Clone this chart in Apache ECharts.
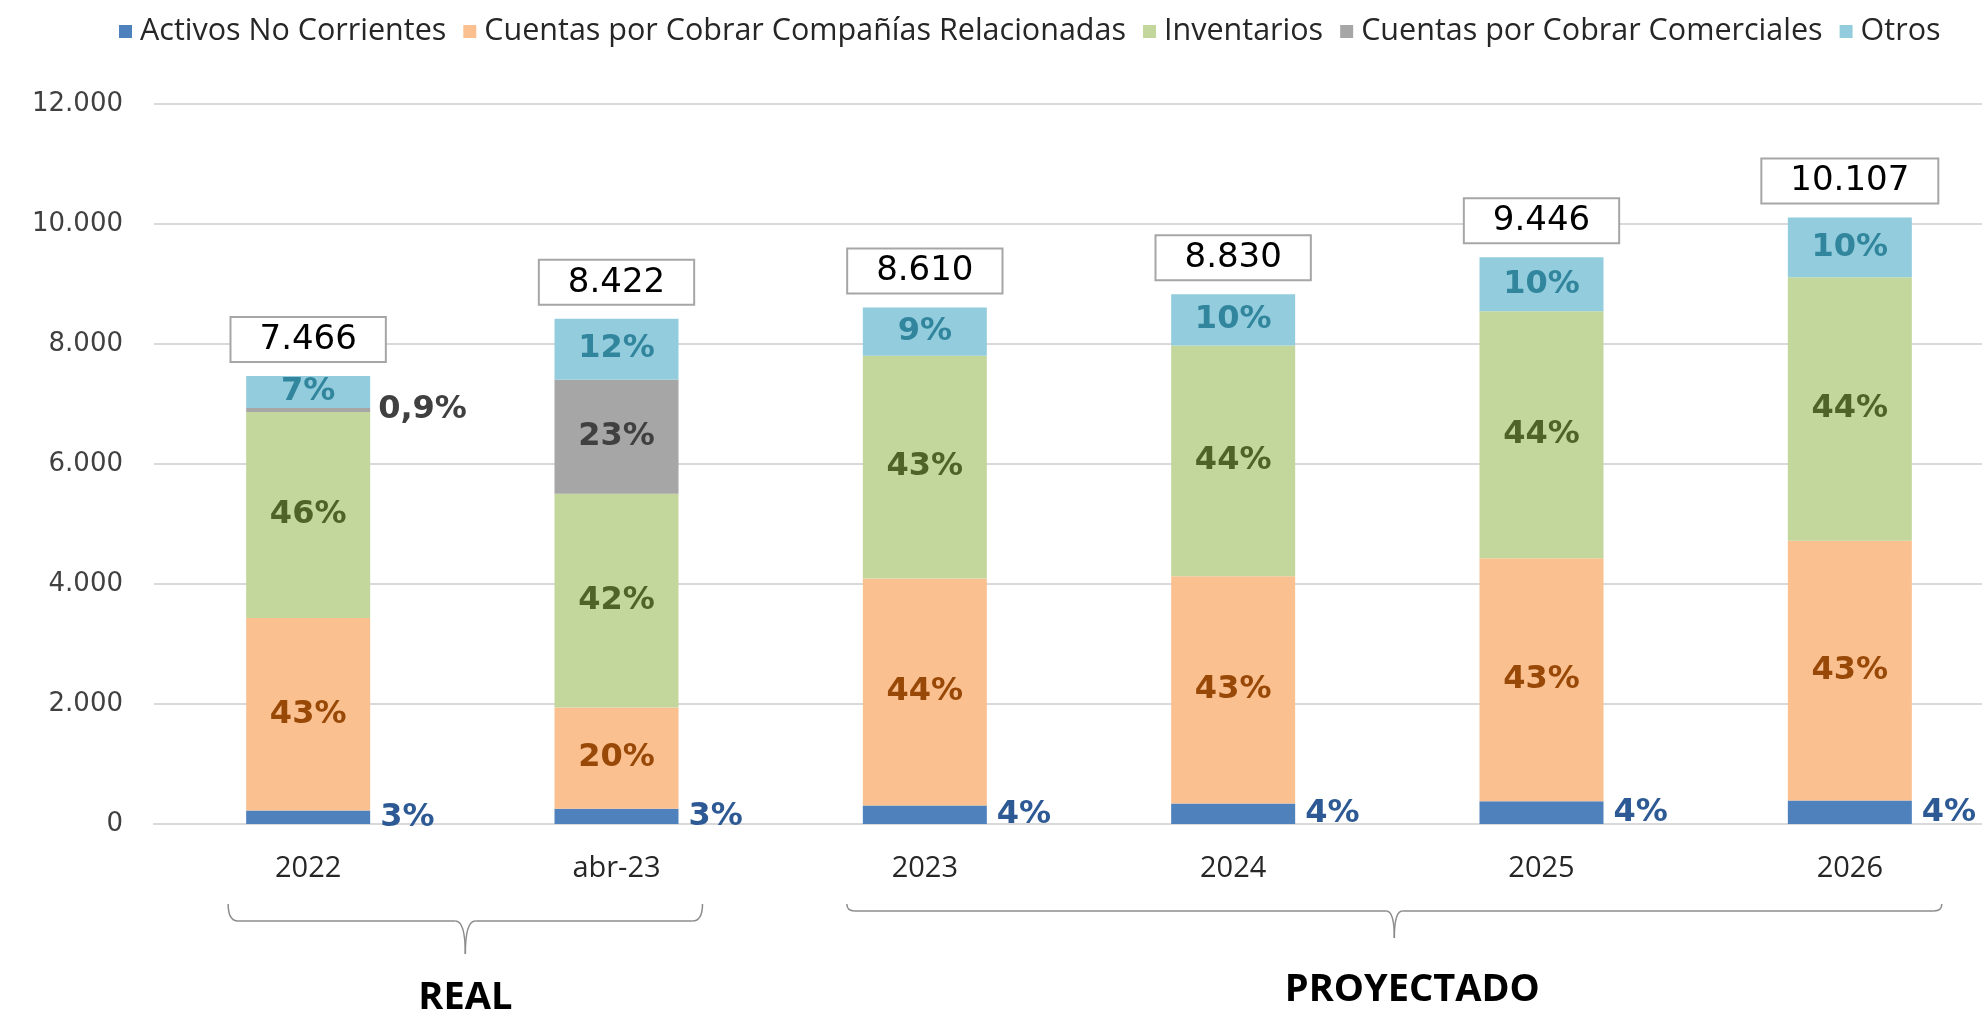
<!DOCTYPE html>
<html>
<head>
<meta charset="utf-8">
<title>Estructura de Activos</title>
<script src="https://cdn.jsdelivr.net/npm/echarts@6/dist/echarts.min.js"></script>
<style>
  html, body { margin: 0; padding: 0; background: #fff; }
  #main { width: 1982px; height: 1018px; }
</style>
</head>
<body>
<div id="main"></div>
<script>
// datos (miles)
const categories = ['2022', 'abr-23', '2023', '2024', '2025', '2026'];
const totales = [7466, 8422, 8610, 8830, 9446, 10107];
const activosNoCorrientes = [224, 253, 310, 340, 380, 390];
const ctasRelacionadas = [3210, 1688, 3783, 3790, 4050, 4330];
const inventarios = [3434, 3565, 3713, 3845, 4114, 4394];
const ctasComerciales = [67, 1900, 0, 0, 0, 0];
const otros = [531, 1016, 804, 855, 902, 993];

// porcentajes mostrados en cada tramo
const pctActivos = ['3%', '3%', '4%', '4%', '4%', '4%'];
const pctRelacionadas = ['43%', '20%', '44%', '43%', '43%', '43%'];
const pctInventarios = ['46%', '42%', '43%', '44%', '44%', '44%'];
const pctComerciales = ['0,9%', '23%', '', '', '', ''];
const pctOtros = ['7%', '12%', '9%', '10%', '10%', '10%'];

const yMin = 0, yMax = 12000, yStep = 2000;

const VERDANA = "'DejaVu Sans', Verdana, sans-serif";
const CALIBRI = "'Open Sans', 'Noto Sans', sans-serif";
const BAR_W = 124;

function miles(v) {
  return String(v).replace(/\B(?=(\d{3})+(?!\d))/g, '.');
}

function tramo(name, values, pcts, color, labelColor, pos) {
  return {
    name: name,
    type: 'bar',
    stack: 'total',
    barWidth: BAR_W,
    itemStyle: { color: color },
    label: {
      show: true,
      position: pos || 'inside',
      distance: 10,
      color: labelColor,
      fontFamily: VERDANA,
      fontWeight: 'bold',
      fontSize: 32,
      formatter: p => pcts[p.dataIndex]
    },
    data: values.map(v => v)
  };
}

let myChart = echarts.init(document.getElementById('main'));

const comerciales = tramo('Cuentas por Cobrar Comerciales', ctasComerciales, pctComerciales, '#A6A6A6', '#404040');
// el 0,9% de 2022 va fuera de la barra
comerciales.data[0] = { value: ctasComerciales[0], label: { position: 'right', distance: 8 } };

myChart.setOption({
  animation: false,
  legend: {
    left: 114,
    top: 11,
    icon: 'rect',
    itemWidth: 13,
    itemHeight: 13,
    itemGap: 17,
    textStyle: { fontFamily: CALIBRI, fontSize: 30.5, color: '#262626', padding: [0, 0, 0, 3] },
    data: ['Activos No Corrientes', 'Cuentas por Cobrar Compañías Relacionadas', 'Inventarios',
      'Cuentas por Cobrar Comerciales', 'Otros']
  },
  // el area del grafico sigue un poco mas alla del borde derecho
  grid: { left: 154, width: 1850, top: 104, bottom: 194, outerBoundsMode: 'none', containLabel: false },
  xAxis: {
    type: 'category',
    data: categories,
    axisTick: { show: false },
    axisLine: { lineStyle: { color: '#D9D9D9', width: 2 } },
    axisLabel: { margin: 30, fontFamily: CALIBRI, fontSize: 29, color: '#262626' }
  },
  yAxis: {
    type: 'value',
    min: yMin,
    max: yMax,
    interval: yStep,
    splitLine: { lineStyle: { color: '#D9D9D9', width: 2 } },
    axisLabel: { margin: 31, fontFamily: VERDANA, fontSize: 26, color: '#404040', formatter: v => miles(v) }
  },
  series: [
    tramo('Activos No Corrientes', activosNoCorrientes, pctActivos, '#4F81BD', '#2D5A94', 'right'),
    tramo('Cuentas por Cobrar Compañías Relacionadas', ctasRelacionadas, pctRelacionadas, '#FAC090', '#984807'),
    tramo('Inventarios', inventarios, pctInventarios, '#C3D69B', '#4F6228'),
    comerciales,
    tramo('Otros', otros, pctOtros, '#93CDDD', '#31859C'),
    {
      // caja con el total encima de cada barra
      name: 'Total',
      type: 'bar',
      barWidth: BAR_W,
      barGap: '-100%',
      itemStyle: { color: 'rgba(0,0,0,0)' },
      label: {
        show: true,
        position: 'top',
        distance: 15,
        fontFamily: VERDANA,
        fontSize: 34,
        color: '#000',
        backgroundColor: '#fff',
        borderColor: '#A6A6A6',
        borderWidth: 2,
        padding: [5, 28, 4, 28],
        formatter: p => miles(p.value)
      },
      data: totales
    }
  ]
});

// llaves REAL / PROYECTADO bajo el eje, hechas con curvas y lineas
function llave(x1, x2, top, line, tip, r) {
  const xm = (x1 + x2) / 2;
  const st = { stroke: '#8C8C8C', lineWidth: 1.5, fill: null };
  const curva = (ax, ay, cx, cy, bx, by) => ({
    type: 'bezierCurve', shape: { x1: ax, y1: ay, x2: bx, y2: by, cpx1: cx, cpy1: cy }, style: st
  });
  const recta = (ax, bx) => ({
    type: 'line', shape: { x1: ax, y1: line, x2: bx, y2: line }, style: st
  });
  return [
    curva(x1, top, x1, line, x1 + r, line),
    recta(x1 + r, xm - r),
    curva(xm - r, line, xm, line, xm, tip),
    curva(xm, tip, xm, line, xm + r, line),
    recta(xm + r, x2 - r),
    curva(x2 - r, line, x2, line, x2, top)
  ];
}

const cx = categories.map(c => myChart.convertToPixel({ xAxisIndex: 0 }, c));
const realX1 = cx[0] - 80, realX2 = cx[1] + 86;
const proyX1 = cx[2] - 78, proyX2 = cx[5] + 92;

myChart.setOption({
  graphic: llave(realX1, realX2, 904, 921, 954, 10)
    .concat(llave(proyX1, proyX2, 904, 911, 938, 8))
    .concat([
      {
        type: 'text',
        x: (realX1 + realX2) / 2,
        y: 998,
        style: { text: 'REAL', fill: '#000', font: "bold 38px 'Open Sans', sans-serif", align: 'center', verticalAlign: 'middle' }
      },
      {
        type: 'text',
        x: (proyX1 + proyX2) / 2 + 18,
        y: 990,
        style: { text: 'PROYECTADO', fill: '#000', font: "bold 38px 'Open Sans', sans-serif", align: 'center', verticalAlign: 'middle' }
      }
    ])
});
</script>
</body>
</html>
